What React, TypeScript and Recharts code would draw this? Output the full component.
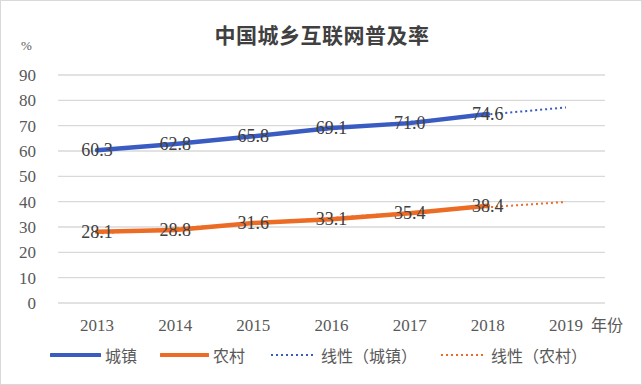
import React from 'react';
import { LineChart, Line, XAxis, YAxis, CartesianGrid, Legend } from 'recharts';

const years = ['2013', '2014', '2015', '2016', '2017', '2018', '2019'];
const urban = [60.3, 62.8, 65.8, 69.1, 71.0, 74.6, null];
const rural = [28.1, 28.8, 31.6, 33.1, 35.4, 38.4, null];
const urbanTrend = [60.2, 63.0, 65.9, 68.7, 71.5, 74.4, 77.2];
const ruralTrend = [27.4, 29.5, 31.5, 33.6, 35.7, 37.8, 39.9];
const yTicks = [0, 10, 20, 30, 40, 50, 60, 70, 80, 90];

const data = years.map((y, i) => ({
  year: y,
  urban: urban[i],
  rural: rural[i],
  urbanTrend: urbanTrend[i],
  ruralTrend: ruralTrend[i],
}));

const SERIF = '"Liberation Serif", "Times New Roman", "Noto Sans CJK SC", serif';
const BLUE = '#3A5CC2';
const ORANGE = '#EC6B25';

const renderLabel = (props: any) => {
  const { x, y, value } = props;
  if (value == null) return null;
  return (
    <text x={x} y={y} dy={6} textAnchor="middle" fontSize={18} fontFamily={SERIF} fill="#404040">
      {Number(value).toFixed(1)}
    </text>
  );
};

const legendItems = [
  { name: '城镇', color: BLUE, dotted: false, width: 49 },
  { name: '农村', color: ORANGE, dotted: false, width: 47 },
  { name: '线性（城镇）', color: BLUE, dotted: true, width: 45 },
  { name: '线性（农村）', color: ORANGE, dotted: true, width: 45 },
];
const legendLeft = [55, 165, 275, 445];

const renderLegend = () => (
  <div style={{ position: 'relative', height: 40, width: 642 }}>
    {legendItems.map((it, i) => (
      <div
        key={it.name}
        style={{
          position: 'absolute',
          left: legendLeft[i] - 5,
          top: 8,
          display: 'flex',
          alignItems: 'center',
          height: 24,
        }}
      >
        <svg width={it.width + 2} height={8} style={{ display: 'block' }}>
          <line
            x1={1}
            x2={it.width + 1}
            y1={4}
            y2={4}
            stroke={it.color}
            strokeWidth={it.dotted ? 2 : 4}
            strokeDasharray={it.dotted ? '2 3' : undefined}
            strokeLinecap={it.dotted ? 'butt' : 'round'}
          />
        </svg>
        <span
          style={{
            marginLeft: 4,
            fontSize: 16,
            color: '#595959',
            fontFamily: '"Noto Sans CJK SC", sans-serif',
            lineHeight: '24px',
          }}
        >
          {it.name}
        </span>
      </div>
    ))}
  </div>
);

export default function App() {
  return (
    <div
      style={{
        position: 'absolute',
        left: 0,
        top: 0,
        width: 642,
        height: 385,
        background: '#fff',
        border: '1px solid #d9d9d9',
        boxSizing: 'border-box',
      }}
    >
      <div
        style={{
          position: 'absolute',
          left: 0,
          top: 19,
          width: 642,
          textAlign: 'center',
          fontSize: 21,
          fontWeight: 600,
          color: '#404040',
          fontFamily: '"Noto Sans CJK SC", serif',
          letterSpacing: 0.5,
          lineHeight: '28px',
        }}
      >
        中国城乡互联网普及率
      </div>
      <div
        style={{
          position: 'absolute',
          left: 20,
          top: 37,
          fontSize: 13,
          color: '#595959',
          fontFamily: SERIF,
        }}
      >
        %
      </div>
      <div
        style={{
          position: 'absolute',
          left: 590,
          top: 312,
          fontSize: 16,
          color: '#595959',
          fontFamily: '"Noto Sans CJK SC", sans-serif',
          lineHeight: '22px',
        }}
      >
        年份
      </div>
      <div style={{ position: 'absolute', left: -1, top: -1 }}>
        <LineChart
          width={642}
          height={385}
          data={data}
          margin={{ top: 75, right: 37, left: 0, bottom: 10 }}
        >
          <CartesianGrid vertical={false} stroke="#d9d9d9" strokeWidth={1.3} />
          <XAxis
            dataKey="year"
            axisLine={false}
            tickLine={false}
            padding={{ left: 39, right: 39 }}
            height={32}
            tick={{ fontSize: 17, fill: '#595959', fontFamily: SERIF }}
            tickMargin={10}
            interval={0}
          />
          <YAxis
            domain={[0, 90]}
            ticks={yTicks}
            width={58}
            axisLine={false}
            tickLine={false}
            tick={{ fontSize: 17, fill: '#595959', fontFamily: SERIF }}
            tickMargin={16}
            interval={0}
          />
          <Legend verticalAlign="bottom" height={40} content={renderLegend} />
          <Line
            dataKey="urbanTrend"
            name="线性（城镇）"
            stroke={BLUE}
            strokeWidth={2}
            strokeDasharray="2 3"
            dot={false}
            isAnimationActive={false}
          />
          <Line
            dataKey="ruralTrend"
            name="线性（农村）"
            stroke={ORANGE}
            strokeWidth={2}
            strokeDasharray="2 3"
            dot={false}
            isAnimationActive={false}
          />
          <Line
            dataKey="urban"
            name="城镇"
            stroke={BLUE}
            strokeWidth={4.5}
            dot={false}
            strokeLinecap="round"
            label={renderLabel}
            isAnimationActive={false}
          />
          <Line
            dataKey="rural"
            name="农村"
            stroke={ORANGE}
            strokeWidth={4.5}
            dot={false}
            strokeLinecap="round"
            label={renderLabel}
            isAnimationActive={false}
          />
        </LineChart>
      </div>
    </div>
  );
}
